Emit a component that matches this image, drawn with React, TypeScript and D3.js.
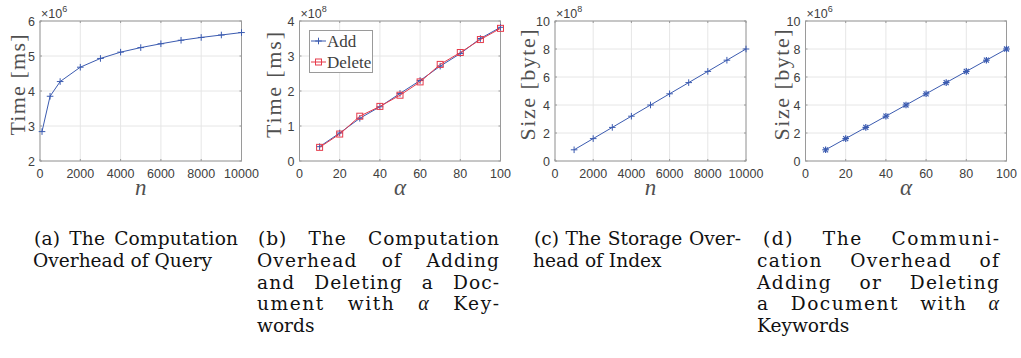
import React, { useLayoutEffect, useRef, useState } from "react";
import * as d3 from "d3";

// ---------- data ----------
const queryN = [100, 500, 1000, 2000, 3000, 4000, 5000, 6000, 7000, 8000, 9000, 10000];
const queryTime = [2.84, 3.85, 4.27, 4.68, 4.93, 5.11, 5.24, 5.35, 5.45, 5.53, 5.6, 5.67]; // x10^6 ms

const alphaVals = [10, 20, 30, 40, 50, 60, 70, 80, 90, 100];
const addTime = [0.41, 0.8, 1.22, 1.55, 1.93, 2.3, 2.71, 3.07, 3.5, 3.82]; // x10^8 ms
const deleteTime = [0.39, 0.77, 1.28, 1.56, 1.88, 2.26, 2.76, 3.1, 3.47, 3.79]; // x10^8 ms

const indexN = [1000, 2000, 3000, 4000, 5000, 6000, 7000, 8000, 9000, 10000];
const indexSize = [0.8, 1.6, 2.4, 3.2, 4.0, 4.8, 5.6, 6.4, 7.2, 8.0]; // x10^8 byte

const commSize = [0.8, 1.6, 2.4, 3.2, 4.0, 4.8, 5.6, 6.4, 7.2, 8.0]; // x10^6 byte

const nTicks = [0, 2000, 4000, 6000, 8000, 10000];
const alphaTicks = [0, 20, 40, 60, 80, 100];
const timeTicksA = [2, 3, 4, 5, 6];
const timeTicksB = [0, 1, 2, 3, 4];
const sizeTicks = [0, 2, 4, 6, 8, 10];

// ---------- style ----------
const BLUE = "#3b5bb0";
const RED = "#e63b4b";
const GRID = "#e6e6e6";
const BOX = "#9a9a9a";
const TXT = "#404040";
const LBL = "#505050";
const SANS = "'Liberation Sans', Arial, sans-serif";
const SERIF = "'Liberation Serif', 'Times New Roman', serif";
const CAPFONT = "'DejaVu Serif', serif";
const TOP = 21;
const BOTTOM = 161;

type Series = { x: number[]; y: number[]; color: string; marker: "plus" | "square" | "star" };

function Marker({ cx, cy, type, color }: { cx: number; cy: number; type: string; color: string }) {
  const r = 3.3;
  if (type === "square")
    return <rect x={cx - 3} y={cy - 3} width={6} height={6} fill="none" stroke={color} strokeWidth={1} />;
  if (type === "star")
    return (
      <g stroke={color} strokeWidth={1.2}>
        <line x1={cx - r} y1={cy} x2={cx + r} y2={cy} />
        <line x1={cx} y1={cy - r} x2={cx} y2={cy + r} />
        <line x1={cx - 2.5} y1={cy - 2.5} x2={cx + 2.5} y2={cy + 2.5} />
        <line x1={cx - 2.5} y1={cy + 2.5} x2={cx + 2.5} y2={cy - 2.5} />
      </g>
    );
  return (
    <g stroke={color} strokeWidth={1}>
      <line x1={cx - r} y1={cy} x2={cx + r} y2={cy} />
      <line x1={cx} y1={cy - r} x2={cx} y2={cy + r} />
    </g>
  );
}

function Panel(props: {
  left: number;
  right: number;
  xDomain: [number, number];
  yDomain: [number, number];
  xTicks: number[];
  yTicks: number[];
  exp: string;
  ylabel: string;
  ylabelX: number;
  ylabelLen: number;
  xlabel: string;
  series: Series[];
  legend?: boolean;
}) {
  const { left, right, xDomain, yDomain, xTicks, yTicks, exp, ylabel, ylabelX, ylabelLen, xlabel, series } = props;
  const x = d3.scaleLinear().domain(xDomain).range([left, right]);
  const y = d3.scaleLinear().domain(yDomain).range([BOTTOM, TOP]);
  return (
    <g>
      {xTicks.map((t) => (
        <line key={"gx" + t} x1={x(t)} x2={x(t)} y1={TOP} y2={BOTTOM} stroke={GRID} strokeWidth={1} />
      ))}
      {yTicks.map((t) => (
        <line key={"gy" + t} x1={left} x2={right} y1={y(t)} y2={y(t)} stroke={GRID} strokeWidth={1} />
      ))}
      <rect x={left} y={TOP} width={right - left} height={BOTTOM - TOP} fill="none" stroke={BOX} strokeWidth={1} />
      {xTicks.map((t) => (
        <g key={"tx" + t}>
          <line x1={x(t)} x2={x(t)} y1={BOTTOM} y2={BOTTOM - 2} stroke={BOX} />
          <line x1={x(t)} x2={x(t)} y1={TOP} y2={TOP + 2} stroke={BOX} />
          <text x={x(t)} y={178} textAnchor="middle" fontFamily={SANS} fontSize={12.5} fill={TXT}>
            {t}
          </text>
        </g>
      ))}
      {yTicks.map((t) => (
        <g key={"ty" + t}>
          <line x1={left} x2={left + 2} y1={y(t)} y2={y(t)} stroke={BOX} />
          <line x1={right} x2={right - 2} y1={y(t)} y2={y(t)} stroke={BOX} />
          <text x={left - 5} y={y(t) + 4.5} textAnchor="end" fontFamily={SANS} fontSize={12.5} fill={TXT}>
            {t}
          </text>
        </g>
      ))}
      <text x={left + 1} y={18} fontFamily={SANS} fontSize={12.5} fill={TXT}>
        ×10
        <tspan fontSize={9} dy={-6}>
          {exp}
        </tspan>
      </text>
      <text
        transform={`translate(${ylabelX},85) rotate(-90)`}
        textAnchor="middle"
        style={{ fontFamily: SERIF, fontWeight: 400 }}
        fontSize={22}
        fill={LBL}
        textLength={ylabelLen}
        lengthAdjust="spacing"
      >
        {ylabel}
      </text>
      <text
        x={(left + right) / 2}
        y={195}
        textAnchor="middle"
        style={{ fontFamily: SERIF, fontStyle: "italic", fontWeight: 400 }}
        fontSize={23}
        fill={LBL}
      >
        {xlabel}
      </text>
      {series.map((s, si) => {
        const pts: [number, number][] = s.x.map((xv, i) => [x(xv), y(s.y[i])]);
        const path = d3.line()(pts) || "";
        return (
          <g key={"s" + si}>
            <path d={path} fill="none" stroke={s.color} strokeWidth={1} />
            {pts.map((p, i) => (
              <Marker key={i} cx={p[0]} cy={p[1]} type={s.marker} color={s.color} />
            ))}
          </g>
        );
      })}
      {props.legend && (
        <g>
          <rect x={309.5} y={30.5} width={63} height={42} fill="white" stroke={BOX} strokeWidth={1} />
          <line x1={311} x2={326} y1={41} y2={41} stroke={series[0].color} />
          <Marker cx={318.5} cy={41} type={series[0].marker} color={series[0].color} />
          <text x={327} y={46.5} fontFamily={SERIF} fontSize={17} fill={TXT}>
            Add
          </text>
          <line x1={311} x2={326} y1={62} y2={62} stroke={series[1].color} />
          <Marker cx={318.5} cy={62} type={series[1].marker} color={series[1].color} />
          <text x={327} y={67.5} fontFamily={SERIF} fontSize={17} fill={TXT}>
            Delete
          </text>
        </g>
      )}
    </g>
  );
}

type Part = { t: string; it?: boolean };

function CapLine({ x, y, w, parts, justify }: { x: number; y: number; w: number; parts: Part[]; justify: boolean }) {
  const ref = useRef<SVGTextElement>(null);
  const [sp, setSp] = useState({ ws: 0, ls: 0 });
  const cur = useRef({ ws: 0, ls: 0 });
  useLayoutEffect(() => {
    if (!justify) return;
    const full = parts.map((p) => p.t).join("");
    const k = (full.match(/ /g) || []).length;
    const n = full.length;
    const measure = () => {
      if (!ref.current || k === 0) return;
      const L = ref.current.getComputedTextLength() - cur.current.ws * k - cur.current.ls * n;
      const E = w - L;
      const ls = E > 0 ? (0.35 * E) / (n - 1) : 0;
      const ws = (E - ls * (n - 1)) / k;
      cur.current = { ws, ls };
      setSp({ ws, ls });
    };
    measure();
    (document as any).fonts?.ready?.then(measure);
  }, []);
  return (
    <text
      ref={ref}
      x={x}
      y={y}
      fontFamily={CAPFONT}
      fontSize={18.6}
      fill="#111"
      wordSpacing={sp.ws}
      letterSpacing={sp.ls}
      style={{ whiteSpace: "pre" }}
    >
      {parts.map((p, i) =>
        p.it ? (
          <tspan key={i} fontFamily={SERIF} fontStyle="italic" fontSize={20}>
            {p.t}
          </tspan>
        ) : (
          <tspan key={i}>{p.t}</tspan>
        )
      )}
    </text>
  );
}

const LH = 21.8;
const B0 = 245;

export default function App() {
  return (
    <div style={{ position: "absolute", left: 0, top: 0, background: "white" }}>
      <svg width={1021} height={358} viewBox="0 0 1021 358" style={{ display: "block", background: "white" }}>
        <Panel
          left={40}
          right={241.5}
          xDomain={[0, 10000]}
          yDomain={[2, 6]}
          xTicks={nTicks}
          yTicks={timeTicksA}
          exp="6"
          ylabel="Time [ms]"
          ylabelX={25}
          ylabelLen={101}
          xlabel="n"
          series={[{ x: queryN, y: queryTime, color: BLUE, marker: "plus" }]}
        />
        <Panel
          left={299.5}
          right={500.5}
          xDomain={[0, 100]}
          yDomain={[0, 4]}
          xTicks={alphaTicks}
          yTicks={timeTicksB}
          exp="8"
          ylabel="Time [ms]"
          ylabelX={281}
          ylabelLen={106}
          xlabel="α"
          legend
          series={[
            { x: alphaVals, y: addTime, color: BLUE, marker: "plus" },
            { x: alphaVals, y: deleteTime, color: RED, marker: "square" },
          ]}
        />
        <Panel
          left={555}
          right={746}
          xDomain={[0, 10000]}
          yDomain={[0, 10]}
          xTicks={nTicks}
          yTicks={sizeTicks}
          exp="8"
          ylabel="Size [byte]"
          ylabelX={535}
          ylabelLen={111}
          xlabel="n"
          series={[{ x: indexN, y: indexSize, color: BLUE, marker: "plus" }]}
        />
        <Panel
          left={805.5}
          right={1006.5}
          xDomain={[0, 100]}
          yDomain={[0, 10]}
          xTicks={alphaTicks}
          yTicks={sizeTicks}
          exp="6"
          ylabel="Size [byte]"
          ylabelX={789}
          ylabelLen={111}
          xlabel="α"
          series={[{ x: alphaVals, y: commSize, color: BLUE, marker: "star" }]}
        />

        <CapLine x={34} y={B0} w={204} parts={[{ t: "(a) The Computation" }]} justify />
        <CapLine x={33} y={B0 + LH} w={180} parts={[{ t: "Overhead of Query" }]} justify={false} />

        <CapLine x={258} y={B0} w={241} parts={[{ t: "(b) The Computation" }]} justify />
        <CapLine x={257} y={B0 + LH} w={242} parts={[{ t: "Overhead of Adding" }]} justify />
        <CapLine x={257} y={B0 + 2 * LH} w={242} parts={[{ t: "and Deleting a Doc-" }]} justify />
        <CapLine x={257} y={B0 + 3 * LH} w={242} parts={[{ t: "ument with " }, { t: "α", it: true }, { t: " Key-" }]} justify />
        <CapLine x={257} y={B0 + 4 * LH} w={60} parts={[{ t: "words" }]} justify={false} />

        <CapLine x={534} y={B0} w={207} parts={[{ t: "(c) The Storage Over-" }]} justify />
        <CapLine x={533} y={B0 + LH} w={120} parts={[{ t: "head of Index" }]} justify={false} />

        <CapLine x={763} y={B0} w={236} parts={[{ t: "(d) The Communi-" }]} justify />
        <CapLine x={757} y={B0 + LH} w={242} parts={[{ t: "cation Overhead of" }]} justify />
        <CapLine x={757} y={B0 + 2 * LH} w={242} parts={[{ t: "Adding or Deleting" }]} justify />
        <CapLine x={757} y={B0 + 3 * LH} w={242} parts={[{ t: "a Document with " }, { t: "α", it: true }]} justify />
        <CapLine x={757} y={B0 + 4 * LH} w={90} parts={[{ t: "Keywords" }]} justify={false} />
      </svg>
    </div>
  );
}
